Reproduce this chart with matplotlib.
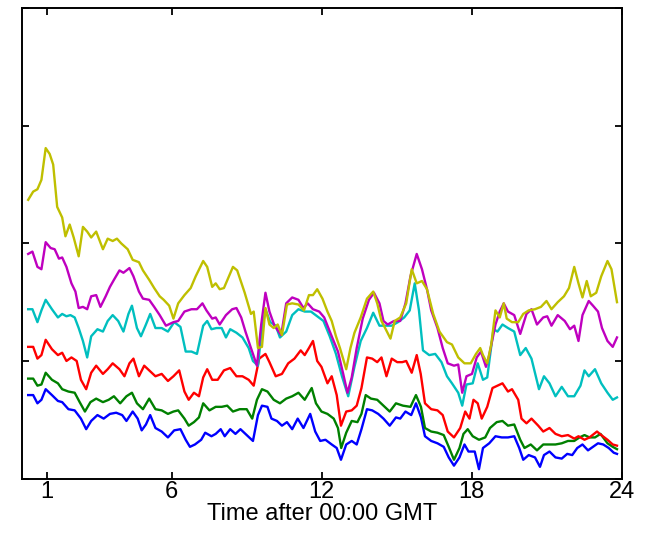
import matplotlib
matplotlib.use("Agg")
import matplotlib.pyplot as plt

plt.rcParams['font.family'] = ['Liberation Sans', 'DejaVu Sans']

# hours after 00:00 GMT and the value read for each of the six traces
yellow_t = [0.26, 0.46, 0.63, 0.79, 0.96, 1.12, 1.26, 1.42, 1.62, 1.75, 1.92, 2.08, 2.28, 2.45, 2.62, 2.78, 2.98,
            3.25, 3.44, 3.64, 3.81, 3.98, 4.24, 4.44, 4.69, 4.85, 5.10, 5.30, 5.52, 5.68, 5.90, 6.07, 6.26, 6.51,
            6.76, 6.96, 7.26, 7.42, 7.62, 7.76, 7.92, 8.09, 8.29, 8.45, 8.62, 8.92, 9.17, 9.28, 9.45, 9.61, 9.75,
            9.91, 10.08, 10.24, 10.41, 10.61, 10.82, 11.07, 11.29, 11.49, 11.65, 11.82, 12.03, 12.23, 12.40, 12.57,
            12.73, 12.98, 13.15, 13.31, 13.56, 13.81, 14.06, 14.22, 14.39, 14.56, 14.75, 14.92, 15.14, 15.38, 15.60,
            15.80, 16.01, 16.21, 16.46, 16.71, 17.01, 17.21, 17.46, 17.71, 17.96, 18.17, 18.34, 18.45, 18.62, 18.78,
            18.95, 19.12, 19.28, 19.40, 19.61, 19.86, 20.06, 20.28, 20.53, 20.77, 20.99, 21.19, 21.44, 21.69, 21.89,
            22.10, 22.27, 22.43, 22.60, 22.76, 22.98, 23.18, 23.43, 23.59, 23.81]
yellow_v = [2.37, 2.44, 2.46, 2.54, 2.81, 2.76, 2.67, 2.31, 2.22, 2.06, 2.16, 2.05, 1.89, 2.14, 2.10, 2.05, 2.10,
            1.95, 2.04, 2.02, 2.04, 2.00, 1.95, 1.86, 1.84, 1.77, 1.69, 1.62, 1.55, 1.52, 1.47, 1.36, 1.49, 1.56,
            1.62, 1.72, 1.85, 1.80, 1.63, 1.66, 1.61, 1.62, 1.72, 1.80, 1.77, 1.58, 1.40, 1.42, 1.11, 1.12, 1.45,
            1.31, 1.28, 1.31, 1.22, 1.48, 1.49, 1.48, 1.43, 1.56, 1.56, 1.61, 1.53, 1.42, 1.34, 1.21,
            1.11, 0.93, 1.11, 1.24, 1.37, 1.53, 1.59, 1.49, 1.34, 1.27, 1.19, 1.34, 1.37, 1.49, 1.78,
            1.66, 1.68, 1.61, 1.40, 1.25, 1.16, 1.14, 1.03, 0.98, 0.98, 1.06, 1.11, 1.05, 0.98, 1.14,
            1.43, 1.37, 1.49, 1.36, 1.33, 1.33, 1.40, 1.43, 1.44, 1.46, 1.51, 1.44, 1.50, 1.55, 1.62,
            1.80, 1.66, 1.54, 1.68, 1.55, 1.58, 1.72, 1.85, 1.78, 1.50]

magenta_t = [0.26, 0.43, 0.63, 0.79, 0.96, 1.16, 1.32, 1.49, 1.62, 1.79, 1.99, 2.15, 2.28, 2.45, 2.62, 2.78, 2.98,
             3.15, 3.36, 3.53, 3.69, 3.91, 4.07, 4.31, 4.47, 4.69, 4.85, 5.10, 5.30, 5.52, 5.77, 6.07, 6.26, 6.51,
             6.79, 7.01, 7.23, 7.39, 7.62, 7.76, 7.92, 8.17, 8.42, 8.59, 8.78, 8.95, 9.17, 9.41, 9.58, 9.75, 9.91,
             10.11, 10.38, 10.58, 10.82, 11.07, 11.27, 11.44, 11.65, 11.90, 12.10, 12.40, 12.65, 12.86, 13.03, 13.20,
             13.40, 13.64, 13.89, 14.09, 14.31, 14.47, 14.64, 14.89, 15.14, 15.35, 15.55, 15.80, 16.01, 16.21, 16.38,
             16.63, 16.84, 17.04, 17.29, 17.46, 17.62, 17.79, 18.01, 18.20, 18.37, 18.57, 18.70, 18.95, 19.12, 19.28,
             19.45, 19.70, 19.94, 20.19, 20.39, 20.61, 20.86, 21.02, 21.19, 21.44, 21.72, 21.93, 22.10, 22.27, 22.43,
             22.68, 22.85, 23.05, 23.21, 23.43, 23.64, 23.81]
magenta_v = [1.91, 1.93, 1.80, 1.78, 2.01, 1.96, 1.95, 1.87, 1.88, 1.80, 1.66, 1.59, 1.45, 1.46, 1.44, 1.55, 1.56,
             1.46, 1.55, 1.63, 1.69, 1.77, 1.75, 1.79, 1.72, 1.59, 1.53, 1.52, 1.46, 1.39, 1.30, 1.33, 1.34, 1.42,
             1.44, 1.44, 1.49, 1.43, 1.36, 1.37, 1.31, 1.39, 1.44, 1.45, 1.37, 1.25, 1.11, 0.96, 1.31, 1.58, 1.42,
             1.30, 1.22, 1.49, 1.54, 1.52, 1.45, 1.49, 1.44, 1.42, 1.37, 1.21, 1.08, 0.89, 0.73, 0.86,
             1.11, 1.36, 1.52, 1.58, 1.49, 1.34, 1.31, 1.34, 1.34, 1.49, 1.72, 1.91, 1.78, 1.61, 1.43,
             1.28, 1.11, 0.98, 0.96, 0.97, 0.73, 0.87, 0.89, 1.03, 1.08, 0.95, 1.05, 1.31, 1.42, 1.49,
             1.42, 1.39, 1.23, 1.40, 1.44, 1.31, 1.37, 1.38, 1.30, 1.39, 1.34, 1.27, 1.30, 1.17, 1.39,
             1.51, 1.47, 1.42, 1.28, 1.17, 1.12, 1.20]

cyan_t = [0.26, 0.43, 0.63, 0.79, 0.96, 1.21, 1.45, 1.62, 1.79, 1.95, 2.12, 2.28, 2.45, 2.62, 2.78, 3.03, 3.25,
          3.44, 3.64, 3.86, 4.07, 4.27, 4.41, 4.61, 4.77, 4.97, 5.14, 5.35, 5.60, 5.85, 6.10, 6.35, 6.56, 6.79,
          7.01, 7.26, 7.42, 7.59, 7.79, 8.00, 8.17, 8.34, 8.59, 8.83, 9.08, 9.25, 9.45, 9.58, 9.75, 9.94, 10.16,
          10.33, 10.58, 10.82, 11.07, 11.32, 11.57, 11.82, 12.07, 12.32, 12.57, 12.81, 13.06, 13.31, 13.56, 13.81,
          14.06, 14.31, 14.52, 14.80, 15.05, 15.30, 15.52, 15.72, 15.89, 16.05, 16.30, 16.54, 16.79, 17.01, 17.21,
          17.46, 17.62, 17.79, 18.04, 18.24, 18.45, 18.62, 18.87, 19.03, 19.23, 19.45, 19.70, 19.94, 20.16, 20.39,
          20.69, 20.89, 21.11, 21.35, 21.60, 21.85, 22.10, 22.35, 22.51, 22.68, 22.93, 23.18, 23.43, 23.64, 23.81]
cyan_v = [1.44, 1.44, 1.33, 1.43, 1.52, 1.44, 1.37, 1.40, 1.38, 1.39, 1.37, 1.28, 1.17, 1.03, 1.21, 1.27, 1.25,
          1.34, 1.39, 1.34, 1.25, 1.40, 1.47, 1.28, 1.21, 1.31, 1.40, 1.28, 1.28, 1.25, 1.33, 1.29, 1.08, 1.08,
          1.06, 1.30, 1.34, 1.27, 1.28, 1.28, 1.20, 1.27, 1.24, 1.20, 1.11, 1.00, 0.96, 1.22, 1.44, 1.33, 1.30,
          1.20, 1.25, 1.39, 1.44, 1.42, 1.42, 1.38, 1.34, 1.21, 1.06, 0.87, 0.70, 0.95, 1.17, 1.28,
          1.41, 1.30, 1.30, 1.30, 1.33, 1.37, 1.43, 1.66, 1.43, 1.09, 1.05, 1.06, 0.99, 0.87, 0.81,
          0.73, 0.62, 0.80, 0.81, 0.98, 0.84, 0.86, 1.27, 1.25, 1.31, 1.28, 1.25, 1.05, 1.11, 1.02,
          0.76, 0.87, 0.81, 0.70, 0.78, 0.70, 0.70, 0.79, 0.92, 0.87, 0.93, 0.81, 0.73, 0.67, 0.69]

red_t = [0.26, 0.46, 0.63, 0.79, 0.96, 1.21, 1.45, 1.62, 1.79, 1.99, 2.20, 2.37, 2.58, 2.78, 2.98, 3.25, 3.44,
         3.64, 3.91, 4.11, 4.31, 4.47, 4.69, 4.90, 5.10, 5.35, 5.60, 5.85, 6.07, 6.30, 6.51, 6.68, 6.89, 7.09,
         7.26, 7.42, 7.62, 7.84, 8.09, 8.34, 8.59, 8.83, 9.08, 9.28, 9.50, 9.75, 9.91, 10.16, 10.41, 10.66, 10.91,
         11.16, 11.32, 11.49, 11.65, 11.82, 11.99, 12.23, 12.40, 12.60, 12.77, 12.98, 13.20, 13.40, 13.59, 13.81,
         14.02, 14.22, 14.39, 14.59, 14.80, 15.02, 15.22, 15.38, 15.60, 15.80, 15.96, 16.13, 16.38, 16.63, 16.84,
         17.04, 17.29, 17.54, 17.74, 17.91, 18.07, 18.24, 18.40, 18.62, 18.83, 19.03, 19.23, 19.45, 19.61, 19.86,
         19.99, 20.19, 20.39, 20.66, 20.86, 21.11, 21.35, 21.60, 21.85, 22.10, 22.27, 22.51, 22.71, 23.01, 23.18,
         23.43, 23.64, 23.81]
red_v = [1.12, 1.12, 1.02, 1.05, 1.18, 1.10, 1.05, 1.07, 1.00, 1.03, 1.00, 0.84, 0.76, 0.90, 0.96, 0.89, 0.93,
         0.98, 0.93, 0.87, 0.98, 1.02, 0.87, 0.96, 0.92, 0.87, 0.89, 0.83, 0.87, 0.92, 0.74, 0.67, 0.73, 0.70,
         0.86, 0.93, 0.84, 0.84, 0.92, 0.94, 0.87, 0.87, 0.84, 0.79, 1.02, 1.06, 0.99, 0.87, 0.89, 0.98, 1.02,
         1.09, 1.05, 1.11, 1.17, 1.00, 0.95, 0.81, 0.87, 0.71, 0.45, 0.57, 0.58, 0.62, 0.77, 1.03,
         1.02, 0.99, 1.03, 0.87, 1.02, 0.99, 0.99, 1.00, 0.90, 1.05, 0.89, 0.64, 0.59, 0.58, 0.54,
         0.40, 0.35, 0.43, 0.57, 0.51, 0.67, 0.64, 0.51, 0.61, 0.77, 0.79, 0.81, 0.74, 0.76, 0.67,
         0.51, 0.47, 0.51, 0.45, 0.40, 0.43, 0.38, 0.36, 0.37, 0.34, 0.36, 0.33, 0.35, 0.40, 0.37,
         0.33, 0.29, 0.28]

green_t = [0.26, 0.46, 0.63, 0.79, 0.96, 1.21, 1.45, 1.62, 1.87, 2.12, 2.32, 2.53, 2.75, 2.98, 3.25, 3.48, 3.69,
           3.94, 4.19, 4.41, 4.61, 4.85, 5.10, 5.35, 5.60, 5.85, 6.07, 6.26, 6.51, 6.68, 6.89, 7.09, 7.26, 7.51,
           7.76, 8.00, 8.22, 8.45, 8.72, 9.00, 9.22, 9.41, 9.61, 9.83, 10.08, 10.33, 10.58, 10.82, 11.07, 11.32,
           11.60, 11.77, 11.99, 12.23, 12.48, 12.65, 12.78, 12.98, 13.20, 13.43, 13.59, 13.76, 13.97, 14.22, 14.47,
           14.72, 14.97, 15.25, 15.55, 15.77, 15.97, 16.13, 16.38, 16.63, 16.88, 17.08, 17.29, 17.51, 17.67, 17.84,
           18.04, 18.29, 18.54, 18.73, 19.00, 19.23, 19.45, 19.70, 19.94, 20.11, 20.36, 20.61, 20.86, 21.11, 21.35,
           21.60, 21.85, 22.10, 22.31, 22.51, 22.71, 22.93, 23.15, 23.43, 23.64, 23.81]
green_v = [0.85, 0.85, 0.79, 0.80, 0.90, 0.84, 0.81, 0.76, 0.74, 0.73, 0.65, 0.57, 0.65, 0.68, 0.65, 0.67, 0.70,
           0.64, 0.70, 0.73, 0.64, 0.59, 0.68, 0.59, 0.58, 0.55, 0.57, 0.58, 0.51, 0.45, 0.48, 0.52, 0.64, 0.58,
           0.61, 0.61, 0.62, 0.57, 0.59, 0.59, 0.51, 0.67, 0.76, 0.74, 0.67, 0.64, 0.68, 0.70, 0.73, 0.67,
           0.77, 0.64, 0.57, 0.55, 0.51, 0.43, 0.26, 0.39, 0.49, 0.48, 0.55, 0.71, 0.68, 0.67, 0.62,
           0.57, 0.64, 0.62, 0.61, 0.71, 0.61, 0.43, 0.40, 0.39, 0.37, 0.27, 0.16, 0.26, 0.38, 0.42,
           0.36, 0.33, 0.35, 0.43, 0.48, 0.49, 0.45, 0.46, 0.33, 0.26, 0.29, 0.24, 0.29, 0.29, 0.29,
           0.30, 0.32, 0.32, 0.35, 0.37, 0.35, 0.35, 0.38, 0.30, 0.27, 0.25]

blue_t = [0.26, 0.46, 0.63, 0.79, 0.96, 1.21, 1.45, 1.62, 1.87, 2.12, 2.37, 2.58, 2.78, 3.03, 3.28, 3.53, 3.78,
          4.02, 4.19, 4.44, 4.64, 4.80, 4.97, 5.14, 5.35, 5.60, 5.85, 6.10, 6.35, 6.56, 6.73, 6.93, 7.18, 7.34,
          7.59, 7.76, 7.96, 8.12, 8.34, 8.55, 8.75, 9.00, 9.25, 9.45, 9.61, 9.83, 9.99, 10.21, 10.41, 10.61, 10.82,
          11.04, 11.27, 11.54, 11.74, 11.94, 12.15, 12.40, 12.60, 12.77, 12.98, 13.20, 13.40, 13.59, 13.81, 14.02,
          14.26, 14.47, 14.72, 14.97, 15.14, 15.35, 15.58, 15.77, 15.97, 16.13, 16.38, 16.63, 16.88, 17.08, 17.29,
          17.51, 17.71, 17.87, 18.12, 18.29, 18.45, 18.70, 18.95, 19.20, 19.45, 19.70, 19.90, 20.06, 20.28, 20.53,
          20.73, 20.89, 21.11, 21.35, 21.60, 21.82, 22.02, 22.22, 22.43, 22.65, 22.85, 23.05, 23.26, 23.48, 23.68,
          23.81]
blue_v = [0.71, 0.71, 0.64, 0.67, 0.76, 0.71, 0.66, 0.65, 0.59, 0.58, 0.51, 0.42, 0.49, 0.54, 0.51, 0.55, 0.56,
          0.54, 0.49, 0.57, 0.51, 0.41, 0.46, 0.54, 0.43, 0.40, 0.35, 0.41, 0.42, 0.33, 0.27, 0.29, 0.33, 0.39,
          0.36, 0.38, 0.42, 0.36, 0.42, 0.38, 0.42, 0.37, 0.32, 0.54, 0.62, 0.61, 0.51, 0.49, 0.45, 0.48, 0.42,
          0.51, 0.43, 0.55, 0.40, 0.32, 0.33, 0.29, 0.26, 0.16, 0.29, 0.32, 0.29, 0.42, 0.59, 0.58,
          0.55, 0.51, 0.45, 0.52, 0.51, 0.57, 0.54, 0.64, 0.52, 0.36, 0.32, 0.30, 0.27, 0.18, 0.11,
          0.18, 0.29, 0.23, 0.23, 0.08, 0.26, 0.30, 0.36, 0.35, 0.35, 0.36, 0.26, 0.16, 0.20, 0.18,
          0.10, 0.20, 0.23, 0.18, 0.17, 0.21, 0.20, 0.26, 0.29, 0.24, 0.27, 0.30, 0.29, 0.26, 0.22,
          0.21]

x_ticks = [1, 6, 12, 18, 24]

fig = plt.figure(figsize=(6.49, 5.42), dpi=100)
ax = fig.add_axes([0.0334, 0.117, 0.9246, 0.868])

traces = [
    (blue_t, blue_v, (0, 0, 1)),
    (green_t, green_v, (0, 0.5, 0)),
    (red_t, red_v, (1, 0, 0)),
    (cyan_t, cyan_v, (0, 0.75, 0.75)),
    (magenta_t, magenta_v, (0.75, 0, 0.75)),
    (yellow_t, yellow_v, (0.75, 0.75, 0)),
]
for t, v, c in traces:
    ax.plot(t, v, color=c, lw=1.7)

ax.set_xlim(0, 24)
ax.set_ylim(0, 4)
ax.set_xticks(x_ticks)
ax.set_yticks([0, 1, 2, 3, 4])
ax.set_yticklabels([])
ax.tick_params(direction='in', length=5, width=1.3, top=True, right=True, labelsize=17, pad=2)
for s in ax.spines.values():
    s.set_linewidth(1.4)
ax.set_xlabel("Time after 00:00 GMT", fontsize=17, labelpad=0)

fig.savefig("out.png", dpi=100)
